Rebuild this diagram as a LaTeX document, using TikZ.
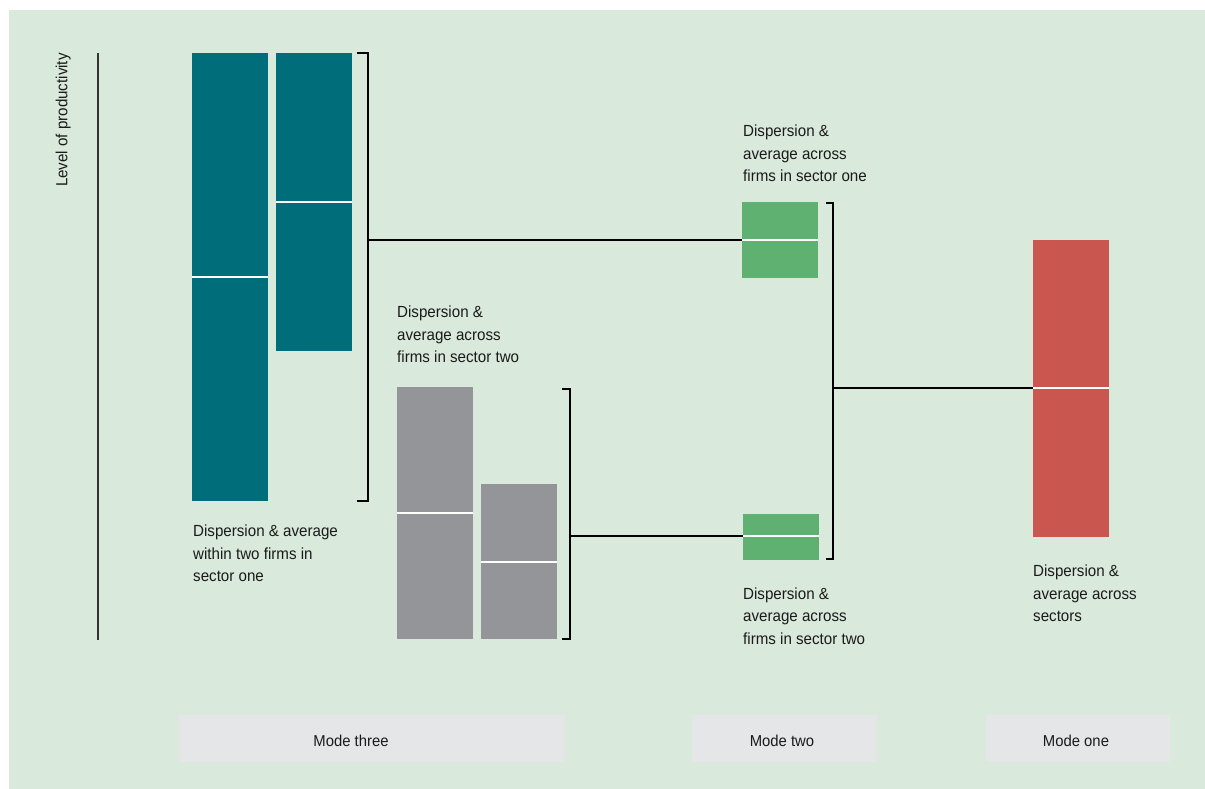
\documentclass[tikz,border=0pt]{standalone}
\usepackage{fontspec}
\setmainfont{Liberation Sans}[FakeStretch=0.94]
\definecolor{bgc}{HTML}{D9E9DB}
\definecolor{tealc}{HTML}{006E7A}
\definecolor{grayc}{HTML}{939598}
\definecolor{greenc}{HTML}{5EB170}
\definecolor{redc}{HTML}{C95750}
\definecolor{modec}{HTML}{E5E6E8}
\definecolor{txtc}{HTML}{1A1A1A}
\begin{document}
\begin{tikzpicture}[x=1pt,y=-1pt,
  bar/.style={anchor=north west,inner sep=0pt,outer sep=0pt,minimum width=76pt},
  midline/.style={white,line width=2pt},
  bracket/.style={black,line width=2.8pt},
  conn/.style={black,line width=2pt},
  lbl/.style={anchor=north west,inner sep=0pt,align=left,text=txtc,font=\fontsize{16.1}{22.4}\selectfont},
  modebox/.style={fill=modec,inner sep=0pt,text=txtc,font=\fontsize{15.8}{18}\selectfont}]
\useasboundingbox (0,0) rectangle (1205,789);
\fill[white] (0,0) rectangle (1205,789);
\fill[bgc] (9,10) rectangle (1205,789);
% axis
\draw[line width=2pt,color=black!80] (98,53) -- (98,640);
\node[rotate=90,anchor=south east,inner sep=0pt,text=txtc,font=\fontsize{16.1}{18}\selectfont] (axl) at (71,53) {Level of productivity};
% mode three bars
\node[bar,fill=tealc,minimum height=448pt] (t1) at (192,53) {};
\node[bar,fill=tealc,minimum height=298pt] (t2) at (276,53) {};
\draw[midline] (t1.west |- 0,277) -- (t1.east |- 0,277);
\draw[midline] (t2.west |- 0,202) -- (t2.east |- 0,202);
\node[bar,fill=grayc,minimum height=252pt] (s1) at (397,387) {};
\node[bar,fill=grayc,minimum height=155pt] (s2) at (481,484) {};
\draw[midline] (s1.west |- 0,513) -- (s1.east |- 0,513);
\draw[midline] (s2.west |- 0,562) -- (s2.east |- 0,562);
% mode two
\node[bar,fill=greenc,minimum height=76pt] (g1) at (742,202) {};
\node[bar,fill=greenc,minimum height=46pt] (g2) at (743,514) {};
\draw[midline] (g1.west |- 0,240) -- (g1.east |- 0,240);
\draw[midline] (g2.west |- 0,536) -- (g2.east |- 0,536);
% mode one
\node[bar,fill=redc,minimum height=297pt] (r1) at (1033,240) {};
\draw[midline] (r1.west |- 0,388) -- (r1.east |- 0,388);
% brackets
\draw[bracket,line cap=rect] (358,53) -- (368,53) -- (368,501) -- (358,501);
\coordinate (b1) at (368,240);
\draw[bracket,line cap=rect] (563,389) -- (570,389) -- (570,639) -- (563,639);
\coordinate (b2) at (570,536);
\draw[bracket,line cap=rect] (827,203) -- (833,203) -- (833,559) -- (827,559);
\coordinate (b3) at (833,388);
% connectors
\draw[conn] (b1) -- (g1.west);
\draw[conn] (b2) -- (g2.west |- b2);
\draw[conn] (b3) -- (r1.west |- b3);
% labels
\node[lbl] (l1) at (743,125) {Dispersion \&\\average across\\firms in sector one};
\node[lbl] (l2) at (397,306) {Dispersion \&\\average across\\firms in sector two};
\node[lbl] (l3) at (193,525) {Dispersion \& average\\within two firms in\\sector one};
\node[lbl] (l4) at (743,587.5) {Dispersion \&\\average across\\firms in sector two};
\node[lbl] (l5) at (1033,565) {Dispersion \&\\average across\\sectors};
% modes
\node[modebox,minimum width=386pt,minimum height=47pt,anchor=north west] (m3) at (179,715) {};
\node[text=txtc,font=\fontsize{15.8}{18}\selectfont,inner sep=0pt] (m3t) at (351,741) {Mode three};
\node[modebox,minimum width=185pt,minimum height=47pt,anchor=north west] (m2) at (692,715) {};
\node[text=txtc,font=\fontsize{15.8}{18}\selectfont,inner sep=0pt] (m2t) at (782,741) {Mode two};
\node[modebox,minimum width=184pt,minimum height=47pt,anchor=north west] (m1) at (986,715) {};
\node[text=txtc,font=\fontsize{15.8}{18}\selectfont,inner sep=0pt] (m1t) at (1076,741) {Mode one};
\end{tikzpicture}
\end{document}
